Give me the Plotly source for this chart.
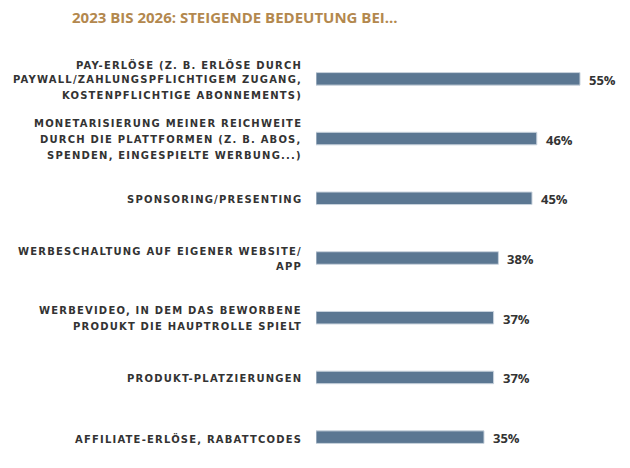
import plotly.graph_objects as go

title = "2023 BIS 2026: STEIGENDE BEDEUTUNG BEI..."
categories = [
    "PAY-ERLÖSE (Z. B. ERLÖSE DURCH<br>PAYWALL/ZAHLUNGSPFLICHTIGEM ZUGANG,<br>KOSTENPFLICHTIGE ABONNEMENTS)",
    "MONETARISIERUNG MEINER REICHWEITE<br>DURCH DIE PLATTFORMEN (Z. B. ABOS,<br>SPENDEN, EINGESPIELTE WERBUNG...)",
    "SPONSORING/PRESENTING",
    "WERBESCHALTUNG AUF EIGENER WEBSITE/<br>APP",
    "WERBEVIDEO, IN DEM DAS BEWORBENE<br>PRODUKT DIE HAUPTROLLE SPIELT",
    "PRODUKT-PLATZIERUNGEN",
    "AFFILIATE-ERLÖSE, RABATTCODES",
]
values = [55, 46, 45, 38, 37, 37, 35]

bar_color = "#5B7792"
text_color = "#333333"
line_gap = 15.7  # px between label lines

fig = go.Figure(go.Bar(
    x=values, y=categories, orientation="h",
    marker=dict(color=bar_color, line=dict(color="#C9D3DD", width=1)),
    width=0.21,
))

# category labels: one annotation per line so the line spacing can be set
for cat in categories:
    lines = cat.split("<br>")
    n = len(lines)
    for i, ln in enumerate(lines):
        fig.add_annotation(
            x=0, y=cat, text='<span style="letter-spacing:1.2px">' + ln + "</span>",
            showarrow=False, xanchor="right", yanchor="middle",
            xshift=-12, yshift=((n - 1) / 2 - i) * line_gap - 1,
            font=dict(family="DejaVu Sans", size=10, color=text_color, weight="bold"))

# value labels
for v, cat in zip(values, categories):
    fig.add_annotation(x=v, y=cat, text=f"{v}%", showarrow=False,
                       xanchor="left", xshift=7, yshift=-1,
                       font=dict(family="Open Sans", size=13, color=text_color, weight="bold"))

# page body has an 8px margin, so the figure is sized to the rest of the window
fig.update_layout(
    width=622, height=460,
    margin=dict(l=308, r=26, t=41, b=1),
    plot_bgcolor="white", paper_bgcolor="white",
    showlegend=False,
    title=dict(text=title, x=64 / 622, xanchor="left", y=1 - 10 / 460, yanchor="middle",
               font=dict(family="Open Sans", size=15, color="#B3884E", weight="bold")),
    xaxis=dict(range=[0, 60], visible=False, fixedrange=True, automargin=False),
    yaxis=dict(categoryorder="array", categoryarray=categories, autorange="reversed",
               showticklabels=False, showgrid=False, zeroline=False, showline=False,
               ticks="", automargin=False),
)

fig.write_html("out.html")
